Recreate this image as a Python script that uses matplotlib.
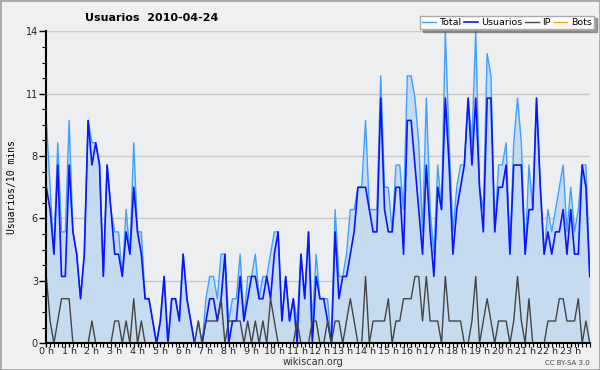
import numpy as np
import matplotlib
matplotlib.use("Agg")
import matplotlib.pyplot as plt
from matplotlib.patches import Rectangle

# users per 10 minutes, 144 slots (0h .. 23h50)
usuarios = [7, 6, 4, 8, 3, 3, 8, 5, 4, 2, 4, 10, 8, 9, 8, 3, 8, 6, 4, 4, 3, 5, 4, 7,
            5, 4, 2, 2, 1, 0, 1, 3, 0, 2, 2, 1, 4, 2, 1, 0, 0, 0, 1, 2, 2, 1, 2, 4,
            0, 1, 1, 3, 1, 2, 3, 3, 2, 2, 3, 2, 4, 5, 1, 3, 1, 2, 0, 4, 2, 5, 0, 3,
            2, 2, 1, 0, 5, 2, 3, 3, 4, 5, 7, 7, 7, 6, 5, 5, 11, 6, 5, 5, 7, 7, 4, 10,
            10, 8, 6, 4, 8, 5, 3, 7, 6, 11, 8, 4, 6, 7, 8, 11, 8, 11, 7, 5, 11, 11, 5, 7,
            7, 8, 4, 8, 8, 8, 4, 6, 6, 11, 7, 4, 5, 4, 5, 5, 6, 4, 6, 4, 4, 8, 7, 3]
ip = [3, 1, 0, 1, 2, 2, 2, 0, 0, 0, 0, 0, 1, 0, 0, 0, 0, 0, 1, 1, 0, 1, 0, 2,
      0, 1, 0, 0, 0, 0, 0, 0, 0, 0, 0, 0, 0, 0, 0, 0, 1, 0, 1, 1, 1, 1, 2, 0,
      1, 1, 1, 1, 0, 1, 0, 1, 0, 1, 0, 2, 1, 0, 0, 0, 0, 0, 1, 0, 0, 0, 1, 1,
      0, 0, 1, 0, 1, 1, 0, 1, 2, 1, 0, 0, 3, 0, 1, 1, 1, 1, 2, 0, 1, 1, 2, 2,
      2, 3, 3, 1, 3, 1, 1, 1, 0, 3, 1, 1, 1, 1, 0, 0, 1, 3, 0, 1, 2, 1, 0, 1,
      1, 1, 0, 1, 3, 1, 0, 2, 0, 0, 0, 0, 1, 1, 1, 2, 2, 1, 1, 1, 2, 0, 1, 0]
total = [10, 7, 4, 9, 5, 5, 10, 5, 4, 2, 4, 10, 9, 9, 8, 3, 8, 6, 5, 5, 3, 6, 4, 9,
         5, 5, 2, 2, 1, 0, 1, 3, 0, 2, 2, 1, 4, 2, 1, 0, 1, 0, 2, 3, 3, 2, 4, 4,
         1, 2, 2, 4, 1, 3, 3, 4, 2, 3, 3, 4, 5, 5, 1, 3, 1, 2, 1, 4, 2, 5, 1, 4,
         2, 2, 2, 0, 6, 3, 3, 4, 6, 6, 7, 7, 10, 6, 6, 6, 12, 7, 7, 5, 8, 8, 6, 12,
         12, 11, 9, 5, 11, 6, 4, 8, 6, 14, 9, 5, 7, 8, 8, 11, 9, 14, 7, 6, 13, 12, 5, 8,
         8, 9, 4, 9, 11, 9, 4, 8, 6, 11, 7, 4, 6, 5, 6, 7, 8, 5, 7, 5, 6, 8, 8, 3]
bots = [0] * 144

hours = np.arange(len(total)) / 6.0
hour_labels = [f"{h} h" for h in range(24)]

fig = plt.figure(figsize=(6, 3.7), dpi=100, facecolor="#f0f0f0")
fig.patches.append(Rectangle((0, 0), 1, 1, transform=fig.transFigure, fill=False,
                             edgecolor="#a8a8a8", linewidth=2))
ax = fig.add_axes([0.0772, 0.0722, 0.9057, 0.8432])
ax.set_facecolor("#edeef0")

ax.fill_between(hours, 0, total, color="#c5dcf0", linewidth=0)
ax.plot(hours, total, color="#3fa0ff", lw=1.0, label="Total")
ax.plot(hours, usuarios, color="#0a14ff", lw=1.2, label="Usuarios")
ax.plot(hours, ip, color="#444444", lw=1.0, label="IP")
ax.plot(hours, bots, color="#ffa010", lw=1.0, label="Bots", alpha=0)

ax.set_xlim(0, hours[-1])
ax.set_ylim(0, 14)
yt = np.linspace(0, 14, 6)
ax.set_yticks(yt)
ax.set_yticklabels([f"{v:.0f}" for v in yt])
ax.set_yticks(np.arange(0, 14.01, 0.7), minor=True)
ax.set_xticks(np.arange(24))
ax.set_xticklabels(hour_labels)
ax.set_xticks(np.arange(0, 24, 1 / 6), minor=True)
ax.grid(axis="y", color="#c8c8c8", lw=1)
ax.set_axisbelow(True)

for s in ("top", "right"):
    ax.spines[s].set_visible(False)
for s in ("left", "bottom"):
    ax.spines[s].set_linewidth(1.5)
    ax.spines[s].set_zorder(5)
ax.tick_params(axis="y", which="major", labelsize=7, length=5, width=1,
               color="black", labelcolor="#222222", pad=1)
ax.tick_params(axis="both", which="minor", length=3, width=0.8)
ax.tick_params(axis="x", which="major", labelsize=6.8, length=3, width=1,
               labelcolor="#222222", pad=0)

ax.set_ylabel("Usuarios/10 mins", family="DejaVu Sans Mono", fontsize=7, labelpad=6)
fig.text(0.522, 0.022, "wikiscan.org", fontsize=7, ha="center", va="center",
         color="#333333")
fig.text(0.142, 0.952, "Usuarios  2010-04-24", fontsize=8, fontweight="bold",
         ha="left", va="center")
fig.text(0.983, 0.020, "CC BY-SA 3.0", fontsize=5, ha="right", va="center", color="#444444")

leg = ax.legend(loc="upper right", bbox_to_anchor=(0.99, 0.958),
                bbox_transform=fig.transFigure, ncol=4, fontsize=6.8,
                frameon=True, fancybox=False, shadow=True, handlelength=1.4,
                handletextpad=0.4, columnspacing=0.3, borderpad=0.25,
                borderaxespad=0)
leg.get_frame().set_edgecolor("#aaaaaa")
for h in leg.legend_handles:
    h.set_alpha(1)

fig.savefig("out.png", dpi=100, facecolor=fig.get_facecolor())
